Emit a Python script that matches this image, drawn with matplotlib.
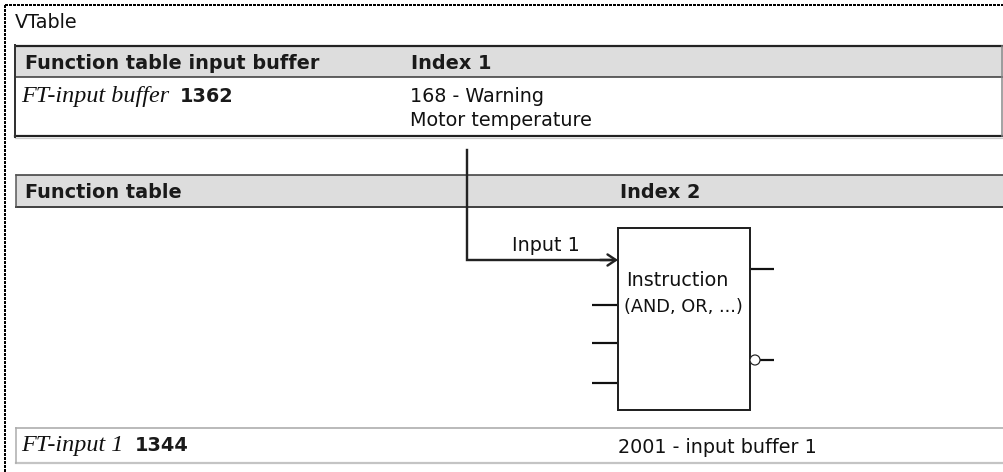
import matplotlib
matplotlib.use("Agg")
import matplotlib.pyplot as plt
from matplotlib.patches import Rectangle, Circle, FancyArrowPatch

# ---- content ----
frame_title = "VTable"
table1_header = ["Function table input buffer", "Index 1"]
table1_param = ["FT-input buffer", "1362"]
table1_value = ["168 - Warning", "Motor temperature"]
table2_header = ["Function table", "Index 2"]
input_label = "Input 1"
block_text = ["Instruction", "(AND, OR, ...)"]
bottom_param = ["FT-input 1", "1344"]
bottom_value = "2001 - input buffer 1"

W, H = 1004, 472
PX = 0.72  # points per pixel at dpi 100

fig = plt.figure(figsize=(W / 100, H / 100), dpi=100)
ax = fig.add_axes([0, 0, 1, 1])
ax.set_xlim(0, W)
ax.set_ylim(H, 0)
ax.axis("off")

REG = dict(family="DejaVu Sans", fontsize=13.8, color="#111111")
BOLD = dict(family="DejaVu Sans", fontsize=13.9, fontweight="bold", color="#1a1a1a")
ITAL = dict(family="Liberation Serif", fontsize=17.4, fontstyle="italic", color="#111111")

# dotted frame
dot = (0, (1, 0.6))
ax.plot([5, W], [5, 5], color="black", lw=2.4 * PX, linestyle=dot, antialiased=False)
ax.plot([5, 5], [5, H], color="black", lw=2.4 * PX, linestyle=dot, antialiased=False)
ax.text(15, 28, frame_title, va="baseline", ha="left", **REG)

# ---- table 1 ----
ax.add_patch(Rectangle((15, 46), W - 15, 31, facecolor="#dddddd", edgecolor="none"))
ax.plot([15, W], [46, 46], color="#222222", lw=2.2 * PX, solid_capstyle="butt")
ax.plot([15, W], [77, 77], color="#333333", lw=1.5 * PX)
ax.plot([15, W], [136, 136], color="#222222", lw=2.2 * PX)
ax.plot([15, W], [138, 138], color="#cccccc", lw=1.2 * PX)
ax.plot([15, 15], [45, 137], color="#333333", lw=2 * PX)
ax.plot([1002.5, 1002.5], [46, 136], color="#888888", lw=1.5 * PX)

ax.text(25, 69, table1_header[0], va="baseline", ha="left", **BOLD)
ax.text(411, 69, table1_header[1], va="baseline", ha="left", **BOLD)
ax.text(21, 102, table1_param[0], va="baseline", ha="left", **ITAL)
ax.text(180, 102, table1_param[1], va="baseline", ha="left", **BOLD)
ax.text(410, 102, table1_value[0], va="baseline", ha="left", **REG)
ax.text(410, 126, table1_value[1], va="baseline", ha="left", **REG)

# ---- table 2 header ----
ax.add_patch(Rectangle((16, 175), W - 16, 32, facecolor="#dddddd", edgecolor="none"))
ax.plot([16, W], [175, 175], color="#333333", lw=1.5 * PX)
ax.plot([16, W], [207, 207], color="#444444", lw=2 * PX)
ax.plot([16, 16], [175, 207], color="#555555", lw=1.5 * PX)
ax.text(25, 198, table2_header[0], va="baseline", ha="left", **BOLD)
ax.text(620, 198, table2_header[1], va="baseline", ha="left", **BOLD)

# ---- signal path ----
ax.plot([467.5, 467.5, 612], [150, 260, 260], color="#222222", lw=2.4 * PX,
        solid_joinstyle="miter", zorder=3)
ax.add_patch(FancyArrowPatch((600, 260), (618, 260), arrowstyle="->,head_length=6,head_width=4",
                             mutation_scale=1, color="#222222", lw=2.4 * PX, zorder=3,
                             shrinkA=0, shrinkB=0))
ax.text(545.5, 251, input_label, va="baseline", ha="center", **REG)

# ---- instruction block ----
ax.add_patch(Rectangle((618, 228), 132, 182, facecolor="white", edgecolor="#222222",
                       lw=2 * PX, zorder=4))
ax.text(626, 286, block_text[0], va="baseline", ha="left", zorder=5, **REG)
ax.text(624, 312, block_text[1], va="baseline", ha="left", zorder=5,
        family="DejaVu Sans", fontsize=12.8, color="#111111")
for yy in [305, 343, 383]:
    ax.plot([592, 618], [yy, yy], color="#111111", lw=2.2 * PX, solid_capstyle="butt")
ax.plot([750, 774], [269, 269], color="#111111", lw=2.2 * PX, solid_capstyle="butt")
ax.plot([760, 774], [360, 360], color="#111111", lw=2.2 * PX, solid_capstyle="butt")
ax.add_patch(Circle((755, 360), 5, facecolor="white", edgecolor="#222222", lw=1.2 * PX, zorder=6))

# ---- bottom row ----
ax.plot([16, W], [428, 428], color="#bbbbbb", lw=2 * PX)
ax.plot([16, W], [463, 463], color="#c4c4c4", lw=2.2 * PX)
ax.plot([16, 16], [428, 463], color="#aaaaaa", lw=1.5 * PX)
ax.text(21, 451, bottom_param[0], va="baseline", ha="left", **ITAL)
ax.text(135, 451, bottom_param[1], va="baseline", ha="left", **BOLD)
ax.text(618, 453, bottom_value, va="baseline", ha="left", **REG)

fig.savefig("out.png", dpi=100)
